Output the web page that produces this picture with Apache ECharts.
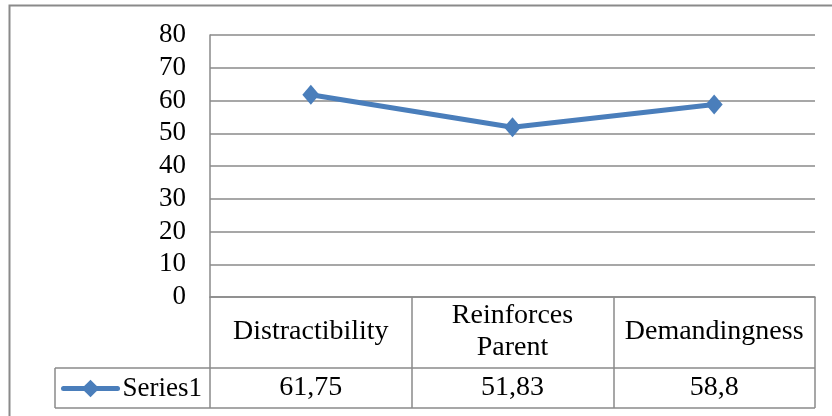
<!DOCTYPE html>
<html>
<head>
<meta charset="utf-8">
<script src="https://cdn.jsdelivr.net/npm/echarts@6/dist/echarts.min.js"></script>
<style>
html,body{margin:0;padding:0;background:#fff;overflow:hidden;}
#chart{width:832px;height:416px;}
</style>
</head>
<body>
<div id="chart"></div>
<script>
const categories = ['Distractibility', 'Reinforces\nParent', 'Demandingness'];
const seriesName = 'Series1';
const series1 = [61.75, 51.83, 58.8];
const yMin = 0, yMax = 80, yInterval = 10;

const valueLabels = series1.map(v => String(v).replace('.', ','));
const FONT = "'Liberation Serif', 'Times New Roman', serif";
const GREY = '#8a8a8a';
const BLUE = '#4a7ebb';

const chart = echarts.init(document.getElementById('chart'), null, {renderer: 'canvas'});
chart.setOption({
  animation: false,
  backgroundColor: '#fff',
  grid: {left: 210, right: 17, top: 35, bottom: 119, containLabel: false},
  legend: {
    data: [seriesName],
    left: 56, top: 370,
    itemWidth: 54, itemHeight: 22,
    lineStyle: {width: 5, color: BLUE, cap: 'round'},
    itemStyle: {color: BLUE},
    textStyle: {fontFamily: FONT, fontSize: 27, color: '#000'}
  },
  xAxis: [
    {
      type: 'category', data: categories, boundaryGap: true,
      axisLine: {show: true, lineStyle: {color: GREY, width: 1.5}},
      axisTick: {show: true, alignWithLabel: false, length: 111, interval: 0, lineStyle: {color: GREY, width: 1.5}},
      axisLabel: {interval: 0, margin: 35, verticalAlign: 'middle', fontFamily: FONT, fontSize: 28, lineHeight: 32, color: '#000'},
      splitLine: {show: false}
    },
    {
      type: 'category', data: valueLabels, boundaryGap: true, position: 'bottom',
      axisLine: {show: false}, axisTick: {show: false},
      axisLabel: {interval: 0, margin: 91, verticalAlign: 'middle', fontFamily: FONT, fontSize: 28, color: '#000'},
      splitLine: {show: false}
    }
  ],
  yAxis: {
    type: 'value', min: yMin, max: yMax, interval: yInterval,
    axisLine: {show: true, lineStyle: {color: GREY, width: 1.5}},
    axisTick: {show: false},
    axisLabel: {margin: 24, fontFamily: FONT, fontSize: 27, color: '#000'},
    splitLine: {show: true, lineStyle: {color: GREY, width: 1.5}}
  },
  series: [{
    name: seriesName, type: 'line', data: series1, xAxisIndex: 0,
    symbol: 'diamond', symbolSize: [17, 20],
    lineStyle: {color: BLUE, width: 5},
    itemStyle: {color: BLUE}
  }],
  graphic: [
    {type: 'rect', shape: {x: 9.5, y: 5.5, width: 1200, height: 800}, style: {fill: 'none', stroke: GREY, lineWidth: 2}, z: 100},
    {type: 'line', shape: {x1: 55, y1: 368, x2: 815, y2: 368}, style: {stroke: GREY, lineWidth: 1.5}},
    {type: 'line', shape: {x1: 55, y1: 408, x2: 815, y2: 408}, style: {stroke: GREY, lineWidth: 1.5}},
    {type: 'line', shape: {x1: 55, y1: 368, x2: 55, y2: 408}, style: {stroke: GREY, lineWidth: 1.5}}
  ]
});
</script>
</body>
</html>
